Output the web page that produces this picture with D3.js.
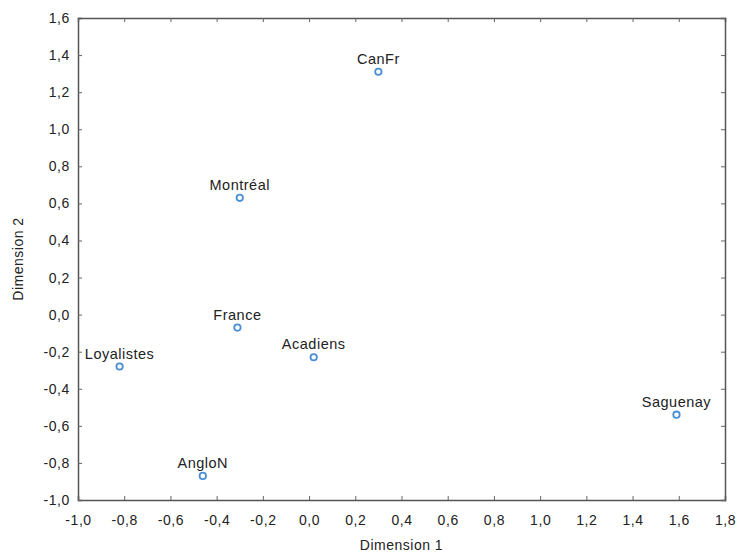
<!DOCTYPE html>
<html>
<meta charset="utf-8">
<head>
<style>
body { margin: 0; background: #fff; }
text { font-family: "Liberation Sans", Arial, sans-serif; fill: #222; }
</style>
<script src="https://d3js.org/d3.v7.min.js"></script>
</head>
<body>
<svg></svg>
<script>
var width = 739, height = 554;

// data
var labels = ["CanFr", "Montréal", "France", "Acadiens", "Loyalistes", "AngloN", "Saguenay"];
var dim1 = [0.30, -0.30, -0.31, 0.02, -0.82, -0.46, 1.59];
var dim2 = [1.31, 0.63, -0.07, -0.23, -0.28, -0.87, -0.54];
var xTicks = [-1.0, -0.8, -0.6, -0.4, -0.2, 0.0, 0.2, 0.4, 0.6, 0.8, 1.0, 1.2, 1.4, 1.6, 1.8];
var yTicks = [-1.0, -0.8, -0.6, -0.4, -0.2, 0.0, 0.2, 0.4, 0.6, 0.8, 1.0, 1.2, 1.4, 1.6];

var margin = {left: 78, right: 14, top: 18, bottom: 54};

var svg = d3.select("svg")
    .attr("width", width)
    .attr("height", height);

var x = d3.scaleLinear().domain([-1.0, 1.8]).range([margin.left, width - margin.right]);
var y = d3.scaleLinear().domain([-1.0, 1.6]).range([height - margin.bottom, margin.top]);

var fmt = d => d.toFixed(1).replace(".", ",").replace("-0,0", "0,0");

// bottom / left axes with inward ticks
var gx = svg.append("g")
    .attr("transform", "translate(0," + y.range()[0] + ")")
    .call(d3.axisBottom(x).tickValues(xTicks).tickFormat(fmt).tickSize(-4).tickPadding(15));
var gy = svg.append("g")
    .attr("transform", "translate(" + x.range()[0] + ",0)")
    .call(d3.axisLeft(y).tickValues(yTicks).tickFormat(fmt).tickSize(-4).tickPadding(8));
// top / right, ticks only
var gt = svg.append("g")
    .attr("transform", "translate(0," + y.range()[1] + ")")
    .call(d3.axisTop(x).tickValues(xTicks).tickFormat("").tickSize(-4));
var gr = svg.append("g")
    .attr("transform", "translate(" + x.range()[1] + ",0)")
    .call(d3.axisRight(y).tickValues(yTicks).tickFormat("").tickSize(-4));

[gx, gy, gt, gr].forEach(g => {
    g.select(".domain").attr("stroke", "#555").attr("stroke-width", 1.5);
    g.selectAll(".tick line").attr("stroke", "#666");
    g.selectAll("text")
        .style("font-size", "14px")
        .style("letter-spacing", "0.6px")
        .attr("fill", "#222");
});

// points
var pts = labels.map((d, i) => ({name: d, a: dim1[i], b: dim2[i]}));

svg.append("g").selectAll("circle")
    .data(pts)
    .enter().append("circle")
    .attr("cx", d => x(d.a))
    .attr("cy", d => y(d.b))
    .attr("r", 3.2)
    .attr("fill", "#fff")
    .attr("stroke", "#4a8fd4")
    .attr("stroke-width", 1.8);

svg.append("g").selectAll("text")
    .data(pts)
    .enter().append("text")
    .attr("x", d => x(d.a))
    .attr("y", d => y(d.b) - 8)
    .attr("text-anchor", "middle")
    .style("font-size", "14.5px")
    .style("letter-spacing", "0.5px")
    .text(d => d.name);

// axis titles
svg.append("text")
    .attr("x", (x.range()[0] + x.range()[1]) / 2)
    .attr("y", 550)
    .attr("text-anchor", "middle")
    .style("font-size", "14px")
    .style("letter-spacing", "0.5px")
    .text("Dimension 1");

svg.append("text")
    .attr("transform", "translate(23," + ((y.range()[0] + y.range()[1]) / 2) + ") rotate(-90)")
    .attr("text-anchor", "middle")
    .style("font-size", "14px")
    .style("letter-spacing", "0.5px")
    .text("Dimension 2");
</script>
</body>
</html>
